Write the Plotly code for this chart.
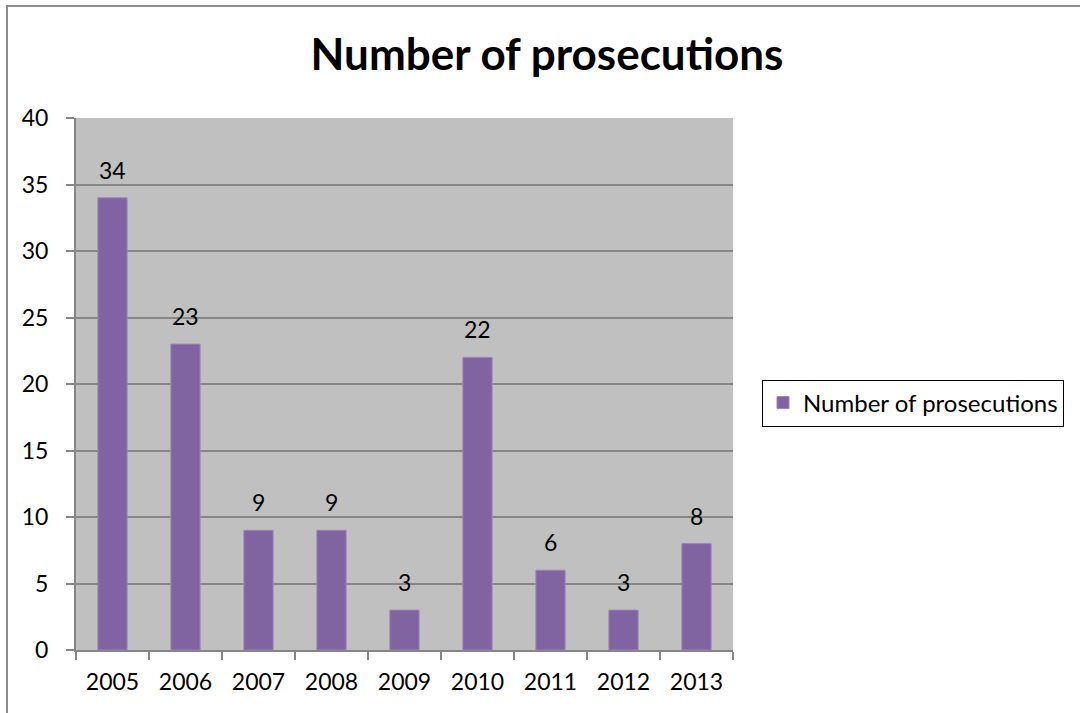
import plotly.graph_objects as go

years = ["2005", "2006", "2007", "2008", "2009", "2010", "2011", "2012", "2013"]
prosecutions = [34, 23, 9, 9, 3, 22, 6, 3, 8]
series_name = "Number of prosecutions"
y_ticks = [0, 5, 10, 15, 20, 25, 30, 35, 40]

FONT = "Lato, 'Open Sans', sans-serif"

fig = go.Figure()
fig.add_trace(go.Bar(
    x=years, y=prosecutions, name=series_name,
    marker=dict(color="#8064A2", line=dict(color="#9a86b8", width=1)),
    width=0.4, showlegend=True,
))
# data labels: category index on the category axis
for i, v in enumerate(prosecutions):
    fig.add_annotation(x=i, y=v, text=str(v), showarrow=False, xanchor="center",
                       yanchor="bottom", yshift=12, font=dict(size=23, family=FONT, color="#000000"))

W, H = 1080, 713
L, R, T, B = 76, 347, 118, 63
pw, ph = W - L - R, H - T - B

def px(x):
    return (x - L) / pw

def py(y):
    return (H - B - y) / ph

fig.update_layout(
    width=W, height=H,
    margin=dict(l=L, r=R, t=T, b=B),
    paper_bgcolor="white", plot_bgcolor="#C0C0C0",
    font=dict(family=FONT, size=23, color="#000000"),
    title=dict(text="<b>Number of prosecutions</b>", x=px(547), xref="paper", xanchor="center",
               y=1 - 55 / H, yanchor="middle", font=dict(size=44, family=FONT)),
    showlegend=True,
    legend=dict(x=px(762), y=py(403), xanchor="left", yanchor="middle",
                bordercolor="#000000", borderwidth=1, bgcolor="white",
                font=dict(size=24, family=FONT), itemwidth=30),
    shapes=[dict(type="path", xref="paper", yref="paper",
                 path=f"M {px(7)} {py(760)} L {px(7)} {py(6)} L {px(1120)} {py(6)}",
                 line=dict(color="#8c8c8c", width=2), layer="above")],
)
fig.update_xaxes(type="category", categoryorder="array", categoryarray=years,
                 showgrid=False, showline=True, linecolor="#868686", linewidth=2,
                 ticks="outside", ticklen=8, tickcolor="#868686", tickwidth=2, tickson="boundaries",
                 tickfont=dict(size=23, family=FONT), ticklabelstandoff=10, tickangle=0)
fig.update_yaxes(range=[0, 40], tickvals=y_ticks, showgrid=True, gridcolor="#868686", gridwidth=2,
                 showline=True, linecolor="#868686", linewidth=2, zeroline=False,
                 ticks="outside", ticklen=8, tickcolor="#868686", tickwidth=2,
                 tickfont=dict(size=23, family=FONT), ticklabelstandoff=13)

fig.write_html("out.html", config={"displayModeBar": False},
               post_script="document.body.style.margin='0';")
